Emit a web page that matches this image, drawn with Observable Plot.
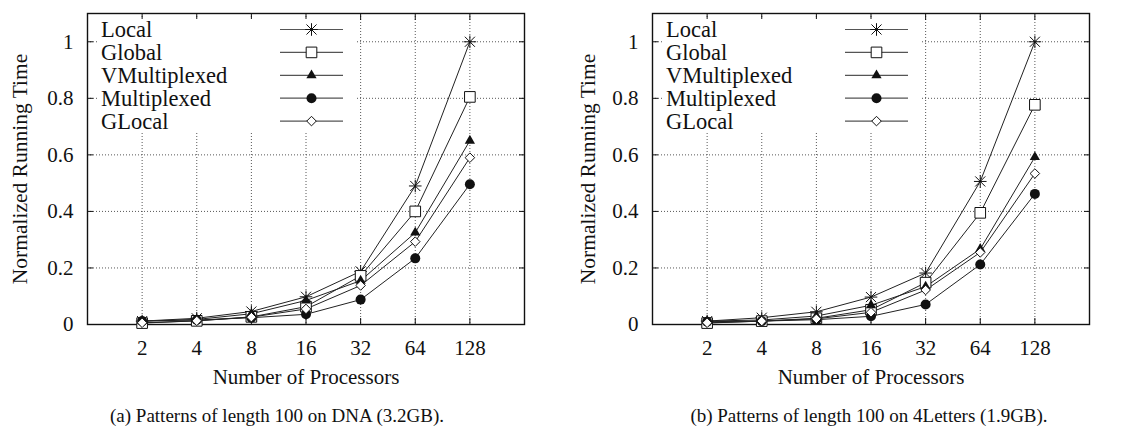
<!DOCTYPE html>
<html><head><meta charset="utf-8">
<script src="https://cdn.jsdelivr.net/npm/d3@7"></script>
<script src="https://cdn.jsdelivr.net/npm/@observablehq/plot@0.6"></script>
<style>
body{margin:0;background:#fff;width:1137px;height:434px;overflow:hidden;position:relative;font-family:"Liberation Serif","Times New Roman","DejaVu Serif",serif;color:#111;}
.panel{position:absolute;top:0;}
.cap{position:absolute;top:405px;font-family:"Liberation Serif","Times New Roman","DejaVu Serif",serif;font-size:19px;white-space:nowrap;transform:translateX(-50%);color:#111;}
</style></head><body>
<div id="a" class="panel" style="left:0"></div>
<div id="b" class="panel" style="left:568px"></div>
<div class="cap" style="left:277px">(a) Patterns of length 100 on DNA (3.2GB).</div>
<div class="cap" style="left:869px">(b) Patterns of length 100 on 4Letters (1.9GB).</div>
<script>
// ---- data ----
const processors = [2, 4, 8, 16, 32, 64, 128];
const yTicks = [0, 0.2, 0.4, 0.6, 0.8, 1];
const seriesNames = ["Local", "Global", "VMultiplexed", "Multiplexed", "GLocal"];
const xLabel = "Number of Processors";
const yLabel = "Normalized Running Time";

// (a) DNA
const dnaLocal        = [0.012, 0.022, 0.046, 0.098, 0.188, 0.490, 1.000];
const dnaGlobal       = [0.005, 0.013, 0.027, 0.063, 0.172, 0.400, 0.805];
const dnaVMultiplexed = [0.012, 0.018, 0.038, 0.085, 0.155, 0.325, 0.650];
const dnaMultiplexed  = [0.012, 0.016, 0.024, 0.036, 0.088, 0.234, 0.496];
const dnaGLocal       = [0.006, 0.013, 0.026, 0.055, 0.138, 0.293, 0.590];

// (b) 4Letters
const letLocal        = [0.012, 0.024, 0.045, 0.097, 0.182, 0.506, 1.000];
const letGlobal       = [0.005, 0.012, 0.022, 0.052, 0.148, 0.395, 0.777];
const letVMultiplexed = [0.012, 0.016, 0.030, 0.068, 0.134, 0.267, 0.592];
const letMultiplexed  = [0.010, 0.012, 0.017, 0.029, 0.071, 0.212, 0.462];
const letGLocal       = [0.006, 0.012, 0.020, 0.043, 0.122, 0.255, 0.534];

// ---- styles ----
const FONT = "'Liberation Serif', 'Times New Roman', 'DejaVu Serif', serif";
const FS = 21;
const starSymbol = {
  draw(ctx, size) {
    const r = Math.sqrt(size / Math.PI), d = r * 0.8;
    ctx.moveTo(-r, 0); ctx.lineTo(r, 0);
    ctx.moveTo(0, -r); ctx.lineTo(0, r);
    ctx.moveTo(-d, -d); ctx.lineTo(d, d);
    ctx.moveTo(-d, d); ctx.lineTo(d, -d);
  }
};
const markerStyles = {
  Local:        {symbol: starSymbol, r: 6.3, fill: "none",  stroke: "#111"},
  Global:       {symbol: "square",   r: 6,   fill: "white", stroke: "#111"},
  VMultiplexed: {symbol: "triangle", r: 3.8, fill: "#111",  stroke: "none"},
  Multiplexed:  {symbol: "circle",   r: 5,   fill: "#111",  stroke: "none"},
  GLocal:       {symbol: "diamond2", r: 4.3, fill: "white", stroke: "#111"}
};
const d3Sym = {square: d3.symbolSquare, triangle: d3.symbolTriangle, circle: d3.symbolCircle, diamond2: d3.symbolDiamond2};

function makeRows(arrays) {
  const rows = [];
  seriesNames.forEach((s, k) => arrays[k].forEach((v, i) => rows.push({series: s, p: processors[i], v})));
  return rows;
}

function chart(el, arrays, ml, width) {
  const mt = 13, mb = 66, height = 390, mr = width - ml - 437;
  const rows = makeRows(arrays);
  const axisCommon = {label: null};
  const svg = Plot.plot({
    width, height, marginLeft: ml, marginRight: mr, marginTop: mt, marginBottom: mb,
    style: {fontFamily: FONT, fontSize: FS + "px", color: "#111", background: "white"},
    x: {type: "log", base: 2, domain: [1, 256]},
    y: {domain: [0, 1.1]},
    marks: [
      Plot.gridX({ticks: processors, stroke: "#444", strokeOpacity: 1, strokeWidth: 0.9, strokeDasharray: "1,2"}),
      Plot.gridY({ticks: yTicks, stroke: "#444", strokeOpacity: 1, strokeWidth: 0.9, strokeDasharray: "1,2"}),
      Plot.axisX({...axisCommon, anchor: "bottom", ticks: processors, tickSize: 0, tickPadding: 16, tickFormat: d => String(d), fontFamily: FONT, fontSize: FS}),
      Plot.axisX({...axisCommon, anchor: "bottom", ticks: processors, tickSize: -6, fill: "none", stroke: "#111"}),
      Plot.axisX({...axisCommon, anchor: "top", ticks: processors, tickSize: -6, fill: "none", stroke: "#111"}),
      Plot.axisY({...axisCommon, anchor: "left", ticks: yTicks, tickSize: 0, tickPadding: 14, tickFormat: d => String(d), fontFamily: FONT, fontSize: FS}),
      Plot.axisY({...axisCommon, anchor: "left", ticks: yTicks, tickSize: -6, fill: "none", stroke: "#111"}),
      Plot.axisY({...axisCommon, anchor: "right", ticks: yTicks, tickSize: -6, fill: "none", stroke: "#111"}),
      Plot.frame({stroke: "#111", strokeWidth: 1.4}),
      Plot.line(rows, {x: "p", y: "v", z: "series", stroke: "#222", strokeWidth: 1}),
      ...seriesNames.map(s => {
        const m = markerStyles[s];
        return Plot.dot(rows.filter(d => d.series === s), {x: "p", y: "v", symbol: m.symbol, r: m.r, fill: m.fill, stroke: m.stroke, strokeWidth: 1});
      }),
      Plot.text([yLabel], {text: d => d, frameAnchor: "left", textAnchor: "middle", dx: 20 - ml, rotate: -90, fontSize: FS + 0.5, fontFamily: FONT}),
      Plot.text([xLabel], {text: d => d, frameAnchor: "bottom", textAnchor: "middle", dy: 59, fontSize: FS, fontFamily: FONT})
    ]
  });
  // legend (inside top-left of frame)
  const g = d3.select(svg).append("g").attr("text-anchor", "start").style("font-family", FONT);
  g.append("rect").attr("x", ml + 12).attr("y", mt + 6).attr("width", 257).attr("height", 113).attr("fill", "white");
  seriesNames.forEach((s, i) => {
    const m = markerStyles[s];
    const cy = mt + 16.5 + i * 22.9;
    g.append("text").attr("x", ml + 14).attr("y", cy).attr("dy", "0.35em")
      .attr("font-size", 22.5).attr("fill", "#111").text(s);
    g.append("line").attr("x1", ml + 193).attr("x2", ml + 256).attr("y1", cy).attr("y2", cy)
      .attr("stroke", "#555").attr("stroke-width", 1.2);
    const type = typeof m.symbol === "string" ? d3Sym[m.symbol] : m.symbol;
    g.append("path").attr("transform", `translate(${ml + 224.5},${cy})`)
      .attr("d", d3.symbol(type, Math.PI * m.r * m.r)())
      .attr("fill", m.fill).attr("stroke", m.stroke).attr("stroke-width", 1);
  });
  document.getElementById(el).appendChild(svg);
}

chart("a", [dnaLocal, dnaGlobal, dnaVMultiplexed, dnaMultiplexed, dnaGLocal], 87, 568);
chart("b", [letLocal, letGlobal, letVMultiplexed, letMultiplexed, letGLocal], 84, 569);
</script>
</body></html>
